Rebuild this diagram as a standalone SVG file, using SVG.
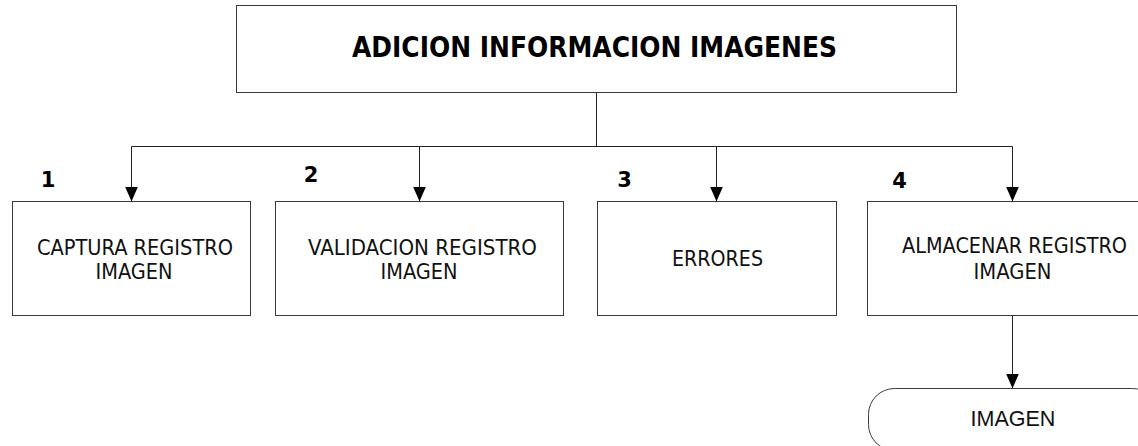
<svg xmlns="http://www.w3.org/2000/svg" width="1138" height="446" viewBox="0 0 1138 446">
<style>
.box{fill:#fff;stroke:#3a3a3a;stroke-width:1}
.con{fill:none;stroke:#222;stroke-width:1}
.t{font-family:"DejaVu Sans Condensed","DejaVu Sans",sans-serif;font-size:22px;fill:#111;text-anchor:middle}
.title{font-family:"DejaVu Sans Condensed","DejaVu Sans",sans-serif;font-size:28px;font-weight:bold;fill:#000;text-anchor:middle}
.num{font-family:"DejaVu Sans","DejaVu Sans Condensed",sans-serif;font-size:21px;font-weight:bold;fill:#000;text-anchor:middle}
.arial{font-family:"Liberation Sans",Arial,sans-serif;font-size:21.5px;fill:#111;text-anchor:middle}
</style>
<defs>
<marker id="arr" markerUnits="userSpaceOnUse" markerWidth="16" markerHeight="14" viewBox="0 -7 16 14" refX="15" refY="0" orient="auto">
<path d="M0,-6.5 L15,0 L0,6.5 z" fill="#000"/>
</marker>
</defs>
<rect width="1138" height="446" fill="#fff"/>

<g id="connectors">
<path class="con" d="M596.5,92.5 V146.5"/>
<path class="con" d="M131.5,146.5 H1012.5"/>
<path class="con" d="M131.5,146.5 V201.5" marker-end="url(#arr)"/>
<path class="con" d="M419.5,146.5 V201.5" marker-end="url(#arr)"/>
<path class="con" d="M716.5,146.5 V201.5" marker-end="url(#arr)"/>
<path class="con" d="M1012.5,146.5 V201.5" marker-end="url(#arr)"/>
<path class="con" d="M1012.5,315.5 V388.5" marker-end="url(#arr)"/>
</g>

<g id="node-title">
<rect class="box" x="236.5" y="5.5" width="720" height="87"/>
<text class="title" x="594.5" y="57" textLength="485" lengthAdjust="spacingAndGlyphs">ADICION INFORMACION IMAGENES</text>
</g>

<g id="node-1">
<text class="num" x="48" y="187">1</text>
<rect class="box" x="12.5" y="201.5" width="238" height="114"/>
<text class="t" x="135" y="255" textLength="196" lengthAdjust="spacingAndGlyphs">CAPTURA REGISTRO</text>
<text class="t" x="134" y="279" textLength="77" lengthAdjust="spacingAndGlyphs">IMAGEN</text>
</g>

<g id="node-2">
<text class="num" x="311" y="182">2</text>
<rect class="box" x="275.5" y="201.5" width="288" height="114"/>
<text class="t" x="422.5" y="255" textLength="229" lengthAdjust="spacingAndGlyphs">VALIDACION REGISTRO</text>
<text class="t" x="419" y="279" textLength="77" lengthAdjust="spacingAndGlyphs">IMAGEN</text>
</g>

<g id="node-3">
<text class="num" x="624.5" y="187">3</text>
<rect class="box" x="597.5" y="201.5" width="239" height="114"/>
<text class="t" x="717.5" y="266" textLength="91" lengthAdjust="spacingAndGlyphs">ERRORES</text>
</g>

<g id="node-4">
<text class="num" x="899.5" y="188">4</text>
<rect class="box" x="867.5" y="201.5" width="295" height="114"/>
<text class="t" x="1014.5" y="253" textLength="225" lengthAdjust="spacingAndGlyphs">ALMACENAR REGISTRO</text>
<text class="t" x="1012.5" y="279" textLength="78" lengthAdjust="spacingAndGlyphs">IMAGEN</text>
</g>

<g id="node-imagen">
<rect class="box" x="868.5" y="388.5" width="290" height="62" rx="26" ry="26"/>
<text class="arial" x="1013" y="426">IMAGEN</text>
</g>
</svg>
